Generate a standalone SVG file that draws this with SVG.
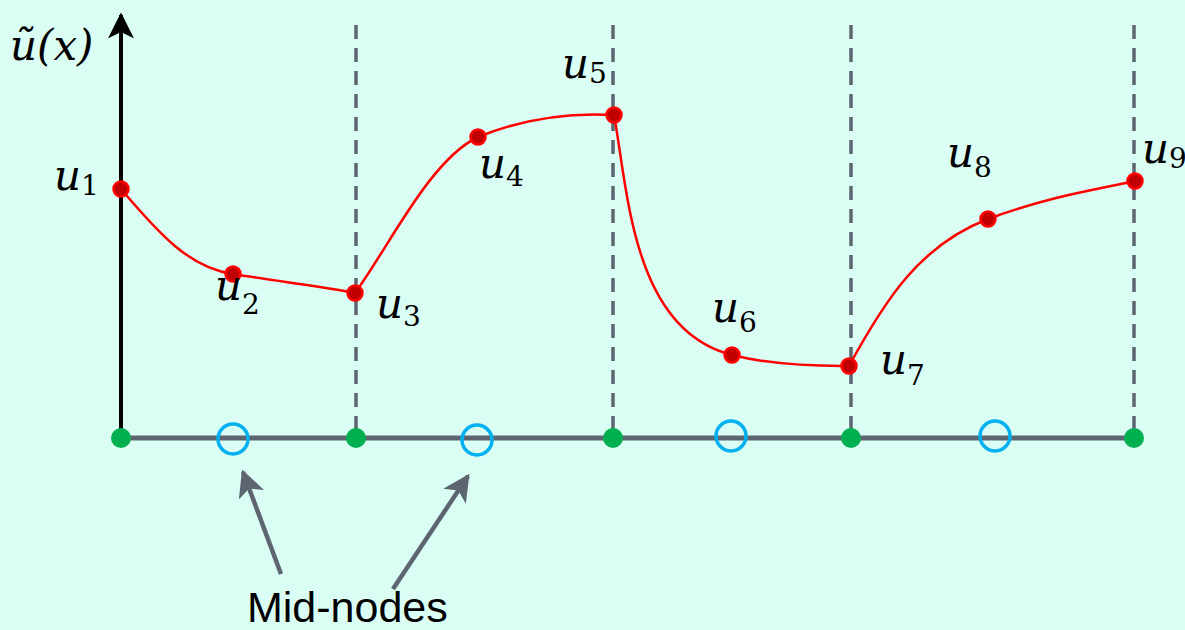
<svg xmlns="http://www.w3.org/2000/svg" width="1185" height="630" viewBox="0 0 1185 630">
<defs>
<style>
.dash{stroke:#5d6670;stroke-width:3.5;stroke-dasharray:14 9;fill:none}
.curve{stroke:#ff0000;stroke-width:2.5;fill:none}
.pt{fill:#c00000;stroke:#ff0000;stroke-width:2.5}
.gn{fill:#00b050}
.mid{fill:none;stroke:#00b0f0;stroke-width:3.5}
.lbl{font-family:"DejaVu Serif","Liberation Serif",serif;font-style:italic;font-size:42px;fill:#000}
.sub{font-family:"DejaVu Serif","Liberation Serif",serif;font-size:28px;font-style:normal}
.ptr{stroke:#5d6670;stroke-width:4.5;fill:none}
</style>
<marker id="ah" viewBox="0 0 10 10" refX="9" refY="5" markerWidth="6" markerHeight="6" orient="auto" markerUnits="strokeWidth">
<path d="M0,0 L10,5 L0,10 L2.5,5 Z" fill="#5d6670"/>
</marker>
<marker id="axh" viewBox="0 0 10 10" refX="9" refY="5" markerWidth="6.5" markerHeight="6.5" orient="auto" markerUnits="strokeWidth">
<path d="M0,0 L10,5 L0,10 L2.5,5 Z" fill="#000"/>
</marker>
</defs>
<rect width="1185" height="630" fill="#dafdf4"/>
<g id="gridlines">
<line class="dash" x1="356" y1="25" x2="356" y2="438"/>
<line class="dash" x1="613" y1="25" x2="613" y2="438"/>
<line class="dash" x1="851" y1="25" x2="851" y2="438"/>
<line class="dash" x1="1134" y1="25" x2="1134" y2="438"/>
</g>
<g id="axes">
<line x1="121" y1="438" x2="1134" y2="438" stroke="#5d6670" stroke-width="5"/>
<line x1="121" y1="438" x2="121" y2="15" stroke="#000" stroke-width="4" marker-end="url(#axh)"/>
<text class="lbl" x="10" y="60" font-size="44">ũ(x)</text>
</g>
<g id="connectors">
<path class="curve" d="M121,189 C160,235 190,268 233,274 C275,281 320,286 355,293"/>
<path class="curve" d="M355,293 C390,245 430,160 478,137 C530,116 580,113 614,115"/>
<path class="curve" d="M614,115 C628,190 632,330 732,355 C780,367 830,366 849,366"/>
<path class="curve" d="M849,366 C885,300 920,245 988,219 C1050,196 1100,189 1135,181"/>
<line class="ptr" x1="281" y1="574" x2="243" y2="472" marker-end="url(#ah)"/>
<line class="ptr" x1="393" y1="589" x2="468" y2="476" marker-end="url(#ah)"/>
</g>
<g id="nodes-main">
<circle class="gn" cx="121" cy="438" r="10"/>
<circle class="gn" cx="356" cy="438" r="10"/>
<circle class="gn" cx="613" cy="438" r="10"/>
<circle class="gn" cx="851" cy="438" r="10"/>
<circle class="gn" cx="1134" cy="438" r="10"/>
</g>
<g id="mid-nodes">
<circle class="mid" cx="233" cy="439" r="15"/>
<circle class="mid" cx="477" cy="440" r="15"/>
<circle class="mid" cx="731" cy="436" r="15"/>
<circle class="mid" cx="995" cy="436" r="15"/>
</g>
<g id="points">
<circle class="pt" cx="121" cy="189" r="7.5"/>
<circle class="pt" cx="233" cy="274" r="7.5"/>
<circle class="pt" cx="355" cy="293" r="7.5"/>
<circle class="pt" cx="478" cy="137" r="7.5"/>
<circle class="pt" cx="614" cy="115" r="7.5"/>
<circle class="pt" cx="732" cy="355" r="7.5"/>
<circle class="pt" cx="849" cy="366" r="7.5"/>
<circle class="pt" cx="988" cy="219" r="7.5"/>
<circle class="pt" cx="1135" cy="181" r="7.5"/>
</g>
<g id="labels">
<text class="lbl" x="54" y="190">u<tspan class="sub" dy="5">1</tspan></text>
<text class="lbl" x="215" y="300">u<tspan class="sub" dy="14">2</tspan></text>
<text class="lbl" x="376" y="318">u<tspan class="sub" dy="8">3</tspan></text>
<text class="lbl" x="479" y="178">u<tspan class="sub" dy="8">4</tspan></text>
<text class="lbl" x="562" y="78">u<tspan class="sub" dy="5">5</tspan></text>
<text class="lbl" x="712" y="322">u<tspan class="sub" dy="10">6</tspan></text>
<text class="lbl" x="880" y="374">u<tspan class="sub" dy="11">7</tspan></text>
<text class="lbl" x="947" y="167">u<tspan class="sub" dy="10">8</tspan></text>
<text class="lbl" x="1142" y="163">u<tspan class="sub" dy="5">9</tspan></text>
<text x="247" y="622" font-family="Liberation Sans, Arial, sans-serif" font-size="43" fill="#000">Mid-nodes</text>
</g>
</svg>
